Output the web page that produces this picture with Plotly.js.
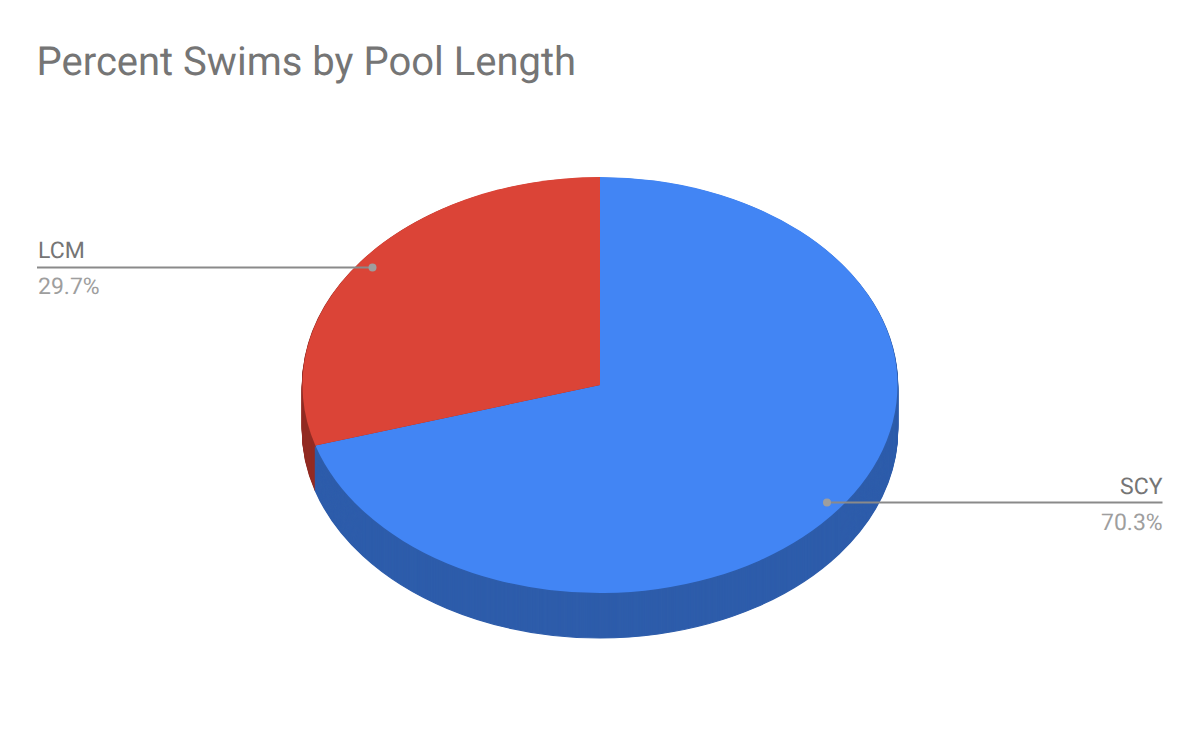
<!DOCTYPE html>
<html>
<head>
<meta charset="utf-8">
<script src="https://cdn.plot.ly/plotly-3.0.1.min.js"></script>
<style>html,body{margin:0;padding:0;background:#fff} svg text{text-rendering:geometricPrecision}</style>
</head>
<body>
<div id="chart" style="width:1200px;height:742px"></div>
<script>
const categories = ["SCY", "LCM"];
const shares = [70.3, 29.7];
const percentLabels = ["70.3%", "29.7%"];
const topColors = ["#4285f4", "#db4437"];
const sideColors = ["#2e5dab", "#932c24"];
const chartTitle = "Percent Swims by Pool Length";

const W = 1200, H = 742;
const cx = 600, cyTop = 385, rx = 297.5, ry = 208, depth = 45;
const squash = ry / rx;

// Pies are laid out as circles, then the pie layer is flattened to an ellipse.
const baseCy = 320;
function pieTrace(offsetPx, colors, edgeWidth) {
  const cy = baseCy + offsetPx / squash;
  return {
    type: "pie",
    labels: categories,
    values: shares,
    sort: false,
    direction: "clockwise",
    rotation: 0,
    textinfo: "none",
    hoverinfo: "label+percent",
    showlegend: false,
    marker: {colors: colors, line: {color: colors, width: edgeWidth}},
    domain: {
      x: [(cx - rx) / W, (cx + rx) / W],
      y: [1 - (cy + rx) / H, 1 - (cy - rx) / H]
    }
  };
}
const traces = [];
for (let d = depth; d > 0; d -= 1) traces.push(pieTrace(d, sideColors, 1.5));
traces.push(pieTrace(0, topColors, 0));

const grey = "#757575", light = "#9e9e9e", lineCol = "#8a8a8a", font = "Roboto, sans-serif";
function leader(xa, xb, y, dotX) {
  return [
    {type: "line", xref: "paper", yref: "paper", x0: xa / W, x1: xb / W, y0: 1 - y / H, y1: 1 - y / H,
     line: {color: lineCol, width: 2}},
    {type: "circle", xref: "paper", yref: "paper", x0: (dotX - 4) / W, x1: (dotX + 4) / W,
     y0: 1 - (y + 4) / H, y1: 1 - (y - 4) / H, fillcolor: light, line: {width: 0}}
  ];
}
function note(text, x, y, anchor, color) {
  return {text: text, xref: "paper", yref: "paper", x: x / W, y: 1 - y / H, xanchor: anchor, yanchor: "middle",
          showarrow: false, font: {family: font, size: 23, color: color}, borderpad: 0};
}
const layout = {
  width: W, height: H,
  margin: {l: 0, r: 0, t: 0, b: 0},
  paper_bgcolor: "#fff",
  title: {text: chartTitle, x: 36.5 / W, xanchor: "left", xref: "paper", y: 1 - 61 / H, yanchor: "middle", yref: "paper",
          font: {family: font, size: 40, color: grey}},
  shapes: [...leader(37, 372.5, 267.5, 372.5), ...leader(827, 1162.5, 502.5, 827)],
  annotations: [
    note(categories[1], 36.5, 250.5, "left", grey),
    note(percentLabels[1], 36.5, 286.5, "left", light),
    note(categories[0], 1163.5, 486.5, "right", grey),
    note(percentLabels[0], 1163.5, 522.5, "right", light)
  ]
};
Plotly.newPlot("chart", traces, layout, {displayModeBar: false, staticPlot: true}).then(function () {
  const layer = document.querySelector("#chart .pielayer");
  layer.setAttribute("transform", "translate(0," + (cyTop - baseCy * squash) + ") scale(1," + squash + ")");
});
</script>
</body>
</html>
